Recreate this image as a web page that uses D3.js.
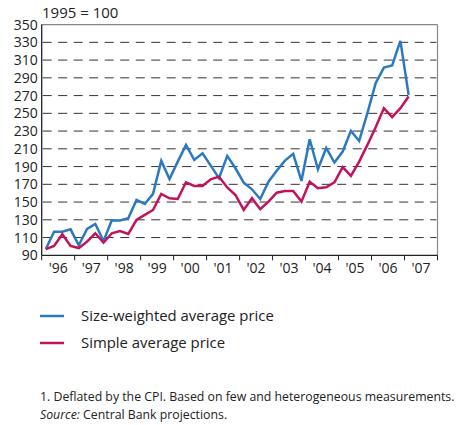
<!DOCTYPE html>
<html>
  <head>
    <style>
      body { margin: 0; background: #fff; font-family: "Open Sans", sans-serif; }
      .grid line { stroke: #333; stroke-width: 1px; stroke-dasharray: 9,6.5; }
      .tick-label { font-size: 14px; fill: #222; }
    </style>
  </head>
  <body>
    <svg width="456" height="425"></svg>
  </body>
  <script src="https://d3js.org/d3.v7.min.js"></script>
  <script>
    // quarterly, 1996Q1 .. 2007Q1
    const sizeWeighted = [97, 116.6, 116.6, 119.3, 101.3, 119.7, 125.3, 106.1, 129.5, 129.2, 131.7, 152.4,
      147.9, 159.2, 196.4, 176, 195.6, 214.4, 197.5, 205, 191, 176.9, 202, 188.1,
      171.9, 164.4, 153.5, 173, 185.4, 196.7, 204.3, 173.8, 220.8, 187, 211, 194.5,
      206.9, 230.2, 218.9, 250.2, 284, 301.6, 303.9, 331.7, 270.8];
    const simpleAvg = [97, 100.5, 113.7, 100.5, 98.2, 105.4, 114.8, 104.2, 114.8, 117.4, 114, 129.8,
      135.5, 141.1, 159.2, 154.3, 153.5, 172.3, 168.2, 168.2, 175.7, 178.7, 166.5, 158,
      141.1, 154.3, 141.9, 150.5, 160.6, 162.5, 162.5, 150.5, 173, 165.6, 166.7, 172.3,
      189.3, 179.5, 195.6, 214.4, 234.4, 255.8, 245.7, 255.8, 269];
    const years = ["'96", "'97", "'98", "'99", "'00", "'01", "'02", "'03", "'04", "'05", "'06", "'07"];
    const yTicks = d3.range(90, 351, 20);
    const seriesNames = ["Size-weighted average price", "Simple average price"];
    const colors = ["#2b79c2", "#c2125c"];

    const svg = d3.select('svg');
    const mLeft = 41.7, mRight = 437.5, mTop = 24.6, mBottom = 255.3;

    const x = d3.scaleLinear().domain([1996, 2008]).range([mLeft, mRight]);
    const y = d3.scaleLinear().domain([90, 350]).range([mBottom, mTop]);

    // frame
    svg.append('line').attr('x1', mLeft).attr('x2', mRight).attr('y1', mTop).attr('y2', mTop)
      .attr('stroke', '#888').attr('stroke-width', 1.2);
    svg.append('line').attr('x1', mRight).attr('x2', mRight).attr('y1', mTop).attr('y2', mBottom)
      .attr('stroke', '#888').attr('stroke-width', 1.2);

    // grid
    svg.append('g').attr('class', 'grid')
      .selectAll('line')
      .data(yTicks.filter(d => d > 90 && d < 350))
      .enter().append('line')
      .attr('x1', mLeft + 1).attr('x2', mRight - 1)
      .attr('y1', d => y(d)).attr('y2', d => y(d));

    // y labels
    svg.append('g').selectAll('text')
      .data(yTicks)
      .enter().append('text')
      .attr('class', 'tick-label')
      .attr('x', mLeft - 4)
      .attr('y', d => y(d) + 5)
      .attr('text-anchor', 'end')
      .text(d => d);

    // x ticks
    svg.append('g').selectAll('line')
      .data(d3.range(1996, 2009))
      .enter().append('line')
      .attr('x1', d => x(d)).attr('x2', d => x(d))
      .attr('y1', mBottom).attr('y2', mBottom + 5)
      .attr('stroke', '#222').attr('stroke-width', 1);

    svg.append('g').selectAll('text')
      .data(years)
      .enter().append('text')
      .attr('class', 'tick-label')
      .attr('x', (d, i) => x(1996 + i + 0.5))
      .attr('y', mBottom + 18)
      .attr('text-anchor', 'middle')
      .text(d => d);

    // axes
    svg.append('line').attr('x1', mLeft).attr('x2', mLeft).attr('y1', mTop).attr('y2', mBottom)
      .attr('stroke', '#222').attr('stroke-width', 1.3);
    svg.append('line').attr('x1', mLeft).attr('x2', mRight).attr('y1', mBottom).attr('y2', mBottom)
      .attr('stroke', '#222').attr('stroke-width', 1.3);

    svg.append('text').attr('x', 42).attr('y', 18)
      .attr('font-size', 15).attr('fill', '#222').text('1995 = 100');

    const line = d3.line()
      .x((d, i) => x(1996 + (i + 0.5) / 4))
      .y(d => y(d));

    [sizeWeighted, simpleAvg].forEach((s, k) => {
      svg.append('path')
        .attr('d', line(s))
        .attr('fill', 'none')
        .attr('stroke', colors[k])
        .attr('stroke-width', 2.5)
        .attr('stroke-linejoin', 'miter');
    });

    // legend
    const legend = svg.append('g');
    seriesNames.forEach((name, k) => {
      const ly = 316 + k * 27;
      legend.append('line').attr('x1', 40).attr('x2', 64).attr('y1', ly).attr('y2', ly)
        .attr('stroke', colors[k]).attr('stroke-width', 2.5);
      legend.append('text').attr('x', 81).attr('y', ly + 5)
        .attr('font-size', 14.9).attr('fill', '#222').text(name);
    });

    // footnote
    svg.append('text').attr('x', 40).attr('y', 401)
      .attr('font-size', 12.3).attr('fill', '#222')
      .text('1. Deflated by the CPI. Based on few and heterogeneous measurements.');
    const src = svg.append('text').attr('x', 40).attr('y', 419)
      .attr('font-size', 12.3).attr('fill', '#222');
    src.append('tspan').attr('font-style', 'italic').text('Source:');
    src.append('tspan').text(' Central Bank projections.');
  </script>
</html>
